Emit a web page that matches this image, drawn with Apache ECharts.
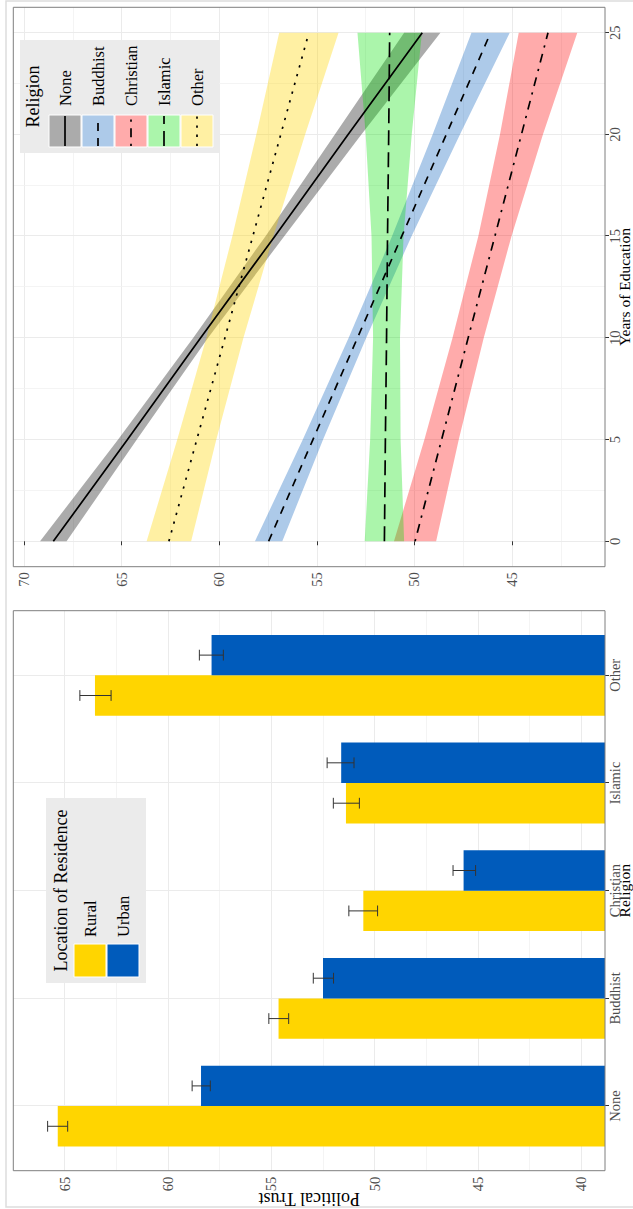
<!DOCTYPE html>
<html><head><meta charset="utf-8">
<script src="https://cdn.jsdelivr.net/npm/echarts@6/dist/echarts.min.js"></script>
<style>
html,body{margin:0;padding:0;background:#fff;overflow:hidden;width:633px;height:1209px;}
#chart{position:absolute;left:0;top:0;width:1209px;height:633px;transform-origin:0 0;transform:translate(0,1209px) rotate(-90deg);}
</style></head><body><div id="chart"></div>
<script>
// ---------- data ----------
const categories = ['None', 'Buddhist', 'Christian', 'Islamic', 'Other'];
const ruralMean = [65.33, 54.65, 50.55, 51.39, 63.53];
const ruralLow  = [64.85, 54.16, 49.86, 50.74, 62.75];
const ruralHigh = [65.82, 55.12, 51.25, 52.00, 64.26];
const urbanMean = [58.40, 52.50, 45.70, 51.62, 57.89];
const urbanLow  = [57.95, 51.99, 45.12, 51.00, 57.32];
const urbanHigh = [58.83, 52.97, 46.21, 52.30, 58.48];

const years = [0, 5, 10, 15, 20, 25];
const noneFit = [68.50, 64.70, 60.95, 57.15, 53.40, 49.60];
const noneLow = [67.82, 64.22, 60.57, 56.67, 52.72, 48.67];
const noneHigh = [69.18, 65.18, 61.33, 57.63, 54.08, 50.53];
const buddhistFit = [57.47, 55.20, 52.92, 50.65, 48.37, 46.10];
const buddhistLow = [56.77, 54.68, 52.47, 50.15, 47.67, 45.12];
const buddhistHigh = [58.17, 55.72, 53.37, 51.15, 49.07, 47.08];
const christianFit = [49.97, 48.61, 47.25, 45.88, 44.52, 43.16];
const christianLow = [48.89, 47.73, 46.45, 45.03, 43.42, 41.66];
const christianHigh = [51.05, 49.49, 48.05, 46.73, 45.62, 44.66];
const islamicFit = [51.54, 51.49, 51.43, 51.38, 51.32, 51.27];
const islamicLow = [50.53, 50.71, 50.74, 50.56, 50.14, 49.62];
const islamicHigh = [52.55, 52.27, 52.12, 52.20, 52.50, 52.92];
const otherFit = [62.58, 61.15, 59.71, 58.28, 56.85, 55.41];
const otherLow = [61.44, 60.15, 58.76, 57.23, 55.60, 53.89];
const otherHigh = [63.72, 62.15, 60.66, 59.33, 58.10, 56.93];

// tick labels
const catTicks = [0, 1, 2, 3, 4];
const trustTicksBar = [40, 45, 50, 55, 60, 65];
const trustMinorBar = [42.5, 47.5, 52.5, 57.5, 62.5];
const yearTicks = [0, 5, 10, 15, 20, 25];
const yearMinor = [2.5, 7.5, 12.5, 17.5, 22.5];
const trustTicksLine = [45, 50, 55, 60, 65, 70];
const trustMinorLine = [42.5, 47.5, 52.5, 57.5, 62.5, 67.5];

// ---------- layout / style ----------
const FONT = 'Liberation Serif';
const BAR_X = [-0.6, 4.6], BAR_Y = [38.86, 67.48];
const LINE_X = [-1.25, 26.25], LINE_Y = [40.24, 70.55];
const G_BAR = {left: 38.3, top: 13.3, width: 560, height: 591.7};
const G_LINE = {left: 642.3, top: 13.3, width: 559.4, height: 591.7};
const BAR_W = 0.375, CAP = 0.05;
const YELLOW = '#FFD500', BLUE = '#005BBB';
const ribbonColors = {
  None: 'rgba(0,0,0,0.33)', Buddhist: 'rgba(0,91,187,0.32)', Christian: 'rgba(255,0,0,0.33)',
  Islamic: 'rgba(0,225,0,0.33)', Other: 'rgba(255,213,0,0.36)'
};
const dashes = {None: 'solid', Buddhist: [8, 7], Christian: [2.3, 6.5, 9, 6.5], Islamic: [15, 7], Other: [2.3, 6.8]};

function labelStyle() { return {fontFamily: FONT, fontSize: 14.5, color: '#4D4D4D'}; }
function nameStyle(size) { return {fontFamily: FONT, fontSize: size, color: '#000', fontWeight: 'normal'}; }

function majorAxis(gridIndex, range, ticks, fmt, margin, extra) {
  return Object.assign({
    type: 'value', gridIndex: gridIndex, min: range[0], max: range[1],
    axisLine: {show: false},
    axisTick: {show: true, customValues: ticks, length: 4, lineStyle: {color: '#333', width: 1}},
    axisLabel: Object.assign({show: true, customValues: ticks, formatter: fmt, margin: margin}, labelStyle()),
    splitLine: {show: true, lineStyle: {color: '#EBEBEB', width: 1}},
    minorTick: {show: false}, minorSplitLine: {show: false}
  }, extra || {});
}
function minorAxis(gridIndex, range, ticks) {
  return {
    type: 'value', gridIndex: gridIndex, min: range[0], max: range[1],
    axisLine: {show: false},
    axisTick: {show: false, customValues: ticks},
    axisLabel: {show: false, customValues: ticks},
    splitLine: {show: true, lineStyle: {color: '#F1F1F1', width: 0.8}}
  };
}

const numFmt = v => String(Math.round(v));

// ---------- series ----------
function barSeries(name, means, offset, color) {
  return {
    type: 'custom', name: name, xAxisIndex: 0, yAxisIndex: 0, z: 2, silent: true,
    data: means.map((v, i) => [i, v]), encode: {x: 0, y: 1},
    renderItem: function (params, api) {
      const x = api.value(0) + offset;
      const p1 = api.coord([x - BAR_W / 2, api.value(1)]);
      const p2 = api.coord([x + BAR_W / 2, BAR_Y[0]]);
      return {type: 'rect', shape: {x: p1[0], y: p1[1], width: p2[0] - p1[0], height: p2[1] - p1[1]},
        style: {fill: color}};
    }
  };
}
function errSeries(name, lows, highs, offset) {
  return {
    type: 'custom', name: name, xAxisIndex: 0, yAxisIndex: 0, z: 3, silent: true,
    data: lows.map((v, i) => [i, v, highs[i]]), encode: {x: 0, y: [1, 2]},
    renderItem: function (params, api) {
      const x = api.value(0) + offset;
      const a = api.coord([x, api.value(1)]);
      const b = api.coord([x, api.value(2)]);
      const l = api.coord([x - CAP, api.value(1)])[0];
      const r = api.coord([x + CAP, api.value(1)])[0];
      const st = {stroke: '#333', lineWidth: 1};
      return {type: 'group', children: [
        {type: 'line', shape: {x1: a[0], y1: a[1], x2: b[0], y2: b[1]}, style: st},
        {type: 'line', shape: {x1: l, y1: a[1], x2: r, y2: a[1]}, style: st},
        {type: 'line', shape: {x1: l, y1: b[1], x2: r, y2: b[1]}, style: st}
      ]};
    }
  };
}
function ribbonSeries(name, lows, highs) {
  return {
    type: 'custom', name: name + ' band', xAxisIndex: 1, yAxisIndex: 2, z: 1, silent: true,
    data: years.map((y, i) => [y, lows[i], highs[i]]), encode: {x: 0, y: [1, 2]},
    renderItem: function (params, api) {
      if (params.dataIndexInside !== 0) return null;
      const n = params.dataInsideLength;
      const pts = [];
      for (let j = 0; j < n; j++) pts.push(api.coord([api.value(0, j), api.value(2, j)]));
      for (let j = n - 1; j >= 0; j--) pts.push(api.coord([api.value(0, j), api.value(1, j)]));
      return {type: 'polygon', shape: {points: pts}, style: {fill: ribbonColors[name]}};
    }
  };
}
function fitSeries(name, fit) {
  return {
    type: 'line', name: name, xAxisIndex: 1, yAxisIndex: 2, z: 4, silent: true,
    data: years.map((y, i) => [y, fit[i]]), symbol: 'none', showSymbol: false,
    lineStyle: {color: '#000', width: 1.7, type: dashes[name], cap: 'butt'}
  };
}

// ---------- legends (graphic) ----------
const graphics = [];
function txt(text, x, y, size, align) {
  graphics.push({type: 'text', z: 120, silent: true, x: x, y: y,
    style: {text: text, fill: '#000', fontFamily: FONT, fontSize: size,
      align: align, verticalAlign: 'middle'}});
}
// outer figure border
graphics.push({type: 'rect', z: 0, silent: true, shape: {x: 2, y: 6, width: 1206, height: 660},
  style: {fill: 'none', stroke: '#DDDDDD', lineWidth: 1.5}});
// panel borders
[G_BAR, G_LINE].forEach(g => graphics.push({type: 'rect', z: 110, silent: true,
  shape: {x: g.left, y: g.top, width: g.width, height: g.height},
  style: {fill: 'none', stroke: '#7F7F7F', lineWidth: 1}}));

// bar legend
graphics.push({type: 'rect', z: 115, silent: true, shape: {x: 226, y: 46, width: 185, height: 100}, style: {fill: '#EBEBEB'}});
txt('Location of Residence', 318.5, 60.5, 18, 'center');
[['Rural', YELLOW], ['Urban', BLUE]].forEach((e, k) => {
  const y0 = 74 + k * 33;
  graphics.push({type: 'rect', z: 116, silent: true, shape: {x: 232, y: y0, width: 33, height: 32},
    style: {fill: e[1], stroke: '#fff', lineWidth: 1}});
  txt(e[0], 272, y0 + 16.5, 16.5, 'left');
});

// line legend
graphics.push({type: 'rect', z: 115, silent: true, shape: {x: 1056, y: 20, width: 113, height: 199}, style: {fill: '#EBEBEB'}});
txt('Religion', 1112.5, 33, 18, 'center');
categories.forEach((c, k) => {
  const y0 = 49 + k * 33;
  graphics.push({type: 'rect', z: 116, silent: true, shape: {x: 1062, y: y0, width: 32, height: 32},
    style: {fill: '#fff'}});
  graphics.push({type: 'rect', z: 117, silent: true, shape: {x: 1062, y: y0, width: 32, height: 32},
    style: {fill: ribbonColors[c], stroke: '#fff', lineWidth: 1}});
  graphics.push({type: 'line', z: 118, silent: true, shape: {x1: 1063, y1: y0 + 16, x2: 1093, y2: y0 + 16},
    style: {stroke: '#000', lineWidth: 1.7, lineDash: dashes[c] === 'solid' ? null : dashes[c]}});
  txt(c, 1103, y0 + 16.5, 16.5, 'left');
});

// ---------- chart ----------
const chart = echarts.init(document.getElementById('chart'), null, {renderer: 'svg', width: 1209, height: 633});
chart.setOption({
  animation: false,
  backgroundColor: '#fff',
  grid: [
    Object.assign({show: false, containLabel: false, outerBoundsMode: 'none'}, G_BAR),
    Object.assign({show: false, containLabel: false, outerBoundsMode: 'none'}, G_LINE)
  ],
  xAxis: [
    majorAxis(0, BAR_X, catTicks, v => categories[Math.round(v)], 2,
      {name: 'Religion', nameLocation: 'middle', nameGap: 11.2, nameTextStyle: nameStyle(15.5), nameMoveOverlap: false}),
    majorAxis(1, LINE_X, yearTicks, numFmt, 2,
      {name: 'Years of Education', nameLocation: 'middle', nameGap: 11.2, nameTextStyle: nameStyle(15.5), nameMoveOverlap: false}),
    minorAxis(1, LINE_X, yearMinor)
  ],
  yAxis: [
    majorAxis(0, BAR_Y, trustTicksBar, numFmt, 6,
      {name: 'Political Trust', nameLocation: 'middle', nameRotate: 90, nameGap: 19, nameTextStyle: nameStyle(18), nameMoveOverlap: false}),
    minorAxis(0, BAR_Y, trustMinorBar),
    majorAxis(1, LINE_Y, trustTicksLine, numFmt, 5.5),
    minorAxis(1, LINE_Y, trustMinorLine)
  ],
  series: [
    barSeries('Rural', ruralMean, -BAR_W / 2, YELLOW),
    barSeries('Urban', urbanMean, BAR_W / 2, BLUE),
    errSeries('Rural error', ruralLow, ruralHigh, -BAR_W / 2),
    errSeries('Urban error', urbanLow, urbanHigh, BAR_W / 2),
    ribbonSeries('None', noneLow, noneHigh),
    ribbonSeries('Buddhist', buddhistLow, buddhistHigh),
    ribbonSeries('Christian', christianLow, christianHigh),
    ribbonSeries('Islamic', islamicLow, islamicHigh),
    ribbonSeries('Other', otherLow, otherHigh),
    fitSeries('None', noneFit),
    fitSeries('Buddhist', buddhistFit),
    fitSeries('Christian', christianFit),
    fitSeries('Islamic', islamicFit),
    fitSeries('Other', otherFit)
  ],
  graphic: {elements: graphics}
});
</script></body></html>
